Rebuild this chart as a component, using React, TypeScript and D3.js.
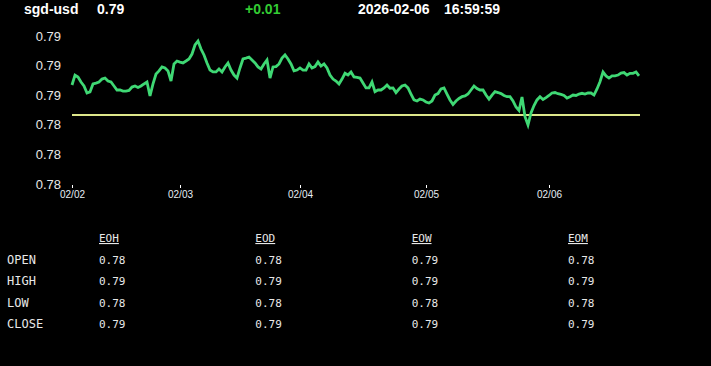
import { useEffect, useRef } from "react";
import * as d3 from "d3";

// header
const SYMBOL = "sgd-usd";
const LAST = "0.79";
const CHANGE = "+0.01";
const DATE = "2026-02-06";
const TIME = "16:59:59";

// price series, one sample per bar
const prices: number[] = [
  0.78669, 0.78736, 0.78723, 0.78689, 0.78662, 0.78615, 0.78622, 0.78676, 0.78682, 0.78689,
  0.78709, 0.78716, 0.78696, 0.78689, 0.78662, 0.78635, 0.78635, 0.78628, 0.78628, 0.78632,
  0.78655, 0.78662, 0.78652, 0.78662, 0.78676, 0.78689, 0.78595, 0.78676, 0.78743, 0.78764,
  0.78791, 0.78784, 0.78764, 0.78696, 0.78811, 0.78831, 0.78824, 0.78818, 0.78831, 0.78845,
  0.78878, 0.78939, 0.78966, 0.78912, 0.78872, 0.78818, 0.7877, 0.78757, 0.78757, 0.78777,
  0.78757, 0.78791, 0.78818, 0.7877, 0.78736, 0.78716, 0.78784, 0.78845, 0.78851, 0.78858,
  0.78838, 0.78818, 0.78791, 0.78777, 0.78811, 0.78838, 0.78716, 0.78791, 0.78793, 0.78811,
  0.78851, 0.78872, 0.78845, 0.78811, 0.78764, 0.7877, 0.78784, 0.7877, 0.7877, 0.78811,
  0.78784, 0.78793, 0.78824, 0.78797, 0.78811, 0.78784, 0.78736, 0.78709, 0.78696, 0.78676,
  0.78709, 0.78748, 0.78736, 0.78757, 0.78723, 0.7872, 0.78716, 0.78682, 0.78649, 0.78649,
  0.78689, 0.78624, 0.78635, 0.78635, 0.78649, 0.78669, 0.78647, 0.78649, 0.78618, 0.78642,
  0.78662, 0.78669, 0.78649, 0.78608, 0.78568, 0.78561, 0.78574, 0.78568, 0.78554, 0.78547,
  0.78561, 0.78601, 0.78611, 0.78642, 0.78649, 0.78608, 0.78568, 0.78537, 0.78561, 0.78578,
  0.7859, 0.78595, 0.78608, 0.78635, 0.78662, 0.78645, 0.78635, 0.78635, 0.78601, 0.78574,
  0.78601, 0.78624, 0.78618, 0.78611, 0.78598, 0.7859, 0.7859, 0.78561, 0.7852, 0.78497,
  0.78588, 0.78455, 0.78399, 0.7848, 0.7853, 0.78568, 0.7859, 0.78571, 0.78584, 0.78598,
  0.78615, 0.78618, 0.7861, 0.78605, 0.78598, 0.78581, 0.7859, 0.78601, 0.78598, 0.78608,
  0.78613, 0.78608, 0.78615, 0.78615, 0.78601, 0.78642, 0.78691, 0.78757, 0.7873, 0.78716,
  0.7873, 0.7873, 0.78736, 0.7875, 0.78753, 0.78736, 0.78748, 0.78748, 0.78757, 0.7873,
];

const refPrice = 0.78466;

const yTicks = [0.78, 0.782, 0.784, 0.786, 0.788, 0.79];
const dayBars = [0, 36, 76, 118, 159];
const dayLabels = ["02/02", "02/03", "02/04", "02/05", "02/06"];

// summary table
const periods = ["EOH", "EOD", "EOW", "EOM"];
const fields = ["OPEN", "HIGH", "LOW", "CLOSE"];
const eohVals = ["0.78", "0.79", "0.78", "0.79"];
const eodVals = ["0.78", "0.79", "0.78", "0.79"];
const eowVals = ["0.79", "0.79", "0.78", "0.79"];
const eomVals = ["0.78", "0.79", "0.78", "0.79"];

const W = 711;
const H = 366;
const SANS = "'Liberation Sans', Arial, sans-serif";
const MONO = "'DejaVu Sans Mono', monospace";

export default function App() {
  const svgRef = useRef<SVGSVGElement>(null);

  useEffect(() => {
    const svg = d3.select(svgRef.current);
    svg.selectAll("*").remove();

    svg.append("rect").attr("width", W).attr("height", H).attr("fill", "#000");

    // header line
    const hdr = svg.append("g").attr("font-family", SANS).attr("font-weight", "bold").attr("font-size", 14);
    hdr.append("text").attr("x", 24).attr("y", 14).attr("fill", "#fff").text(SYMBOL);
    hdr.append("text").attr("x", 97).attr("y", 14).attr("fill", "#fff").text(LAST);
    hdr.append("text").attr("x", 245).attr("y", 14).attr("fill", "#33cc33").text(CHANGE);
    hdr.append("text").attr("x", 358).attr("y", 14).attr("fill", "#fff").text(DATE);
    hdr.append("text").attr("x", 444).attr("y", 14).attr("fill", "#fff").text(TIME);

    const x = d3.scaleLinear().domain([0, prices.length - 1]).range([72, 639]);
    const y = d3.scaleLinear().domain([0.78, 0.79]).range([184, 36]);

    // y axis
    svg
      .append("g")
      .attr("transform", "translate(72,0)")
      .call(d3.axisLeft(y).tickValues(yTicks).tickFormat(d3.format(".2f")).tickSize(0).tickPadding(11))
      .call((a) => {
        a.select(".domain").remove();
        a.selectAll(".tick text")
          .attr("fill", "#e8e8e8")
          .attr("font-size", 13)
          .attr("font-family", SANS);
      });

    // x axis
    svg
      .append("g")
      .attr("transform", "translate(0,185)")
      .call(
        d3
          .axisBottom(x)
          .tickValues(dayBars)
          .tickFormat((d, i) => dayLabels[i])
          .tickSize(3)
          .tickPadding(3)
      )
      .call((a) => {
        a.select(".domain").remove();
        a.selectAll(".tick line").attr("stroke", "#fff");
        a.selectAll(".tick text")
          .attr("fill", "#e6eef5")
          .attr("font-size", 10)
          .attr("font-family", SANS);
      });

    // reference line
    svg
      .append("line")
      .attr("x1", x(0))
      .attr("x2", x(prices.length - 1) + 1)
      .attr("y1", y(refPrice))
      .attr("y2", y(refPrice))
      .attr("stroke", "#dde68a")
      .attr("stroke-width", 2);

    // price line
    const line = d3
      .line<number>()
      .x((d, i) => x(i))
      .y((d) => y(d));
    svg
      .append("path")
      .datum(prices)
      .attr("fill", "none")
      .attr("stroke", "#3fd874")
      .attr("stroke-width", 2.8)
      .attr("stroke-linejoin", "miter")
      .attr("d", line);

    // table
    const cols = d3.scalePoint<string>().domain(periods).range([99, 568]);
    const rows = d3.scalePoint<string>().domain(fields).range([264, 328]);
    const table = [eohVals, eodVals, eowVals, eomVals];
    const tg = svg.append("g").attr("font-family", MONO).attr("fill", "#e8e8e8");

    tg.selectAll(".hd")
      .data(periods)
      .enter()
      .append("text")
      .attr("x", (d) => cols(d)!)
      .attr("y", 242)
      .attr("font-size", 11)
      .style("text-decoration", "underline")
      .text((d) => d);

    tg.selectAll(".lb")
      .data(fields)
      .enter()
      .append("text")
      .attr("x", 7)
      .attr("y", (d) => rows(d)!)
      .attr("font-size", 12)
      .text((d) => d);

    periods.forEach((p, ci) => {
      tg.selectAll(null)
        .data(fields)
        .enter()
        .append("text")
        .attr("x", cols(p)!)
        .attr("y", (d) => rows(d)!)
        .attr("font-size", 11)
        .text((d, ri) => table[ci][ri]);
    });
  }, []);

  return (
    <div style={{ position: "fixed", left: 0, top: 0, width: W, height: H, background: "#000" }}>
      <svg ref={svgRef} width={W} height={H} style={{ display: "block" }} />
    </div>
  );
}
